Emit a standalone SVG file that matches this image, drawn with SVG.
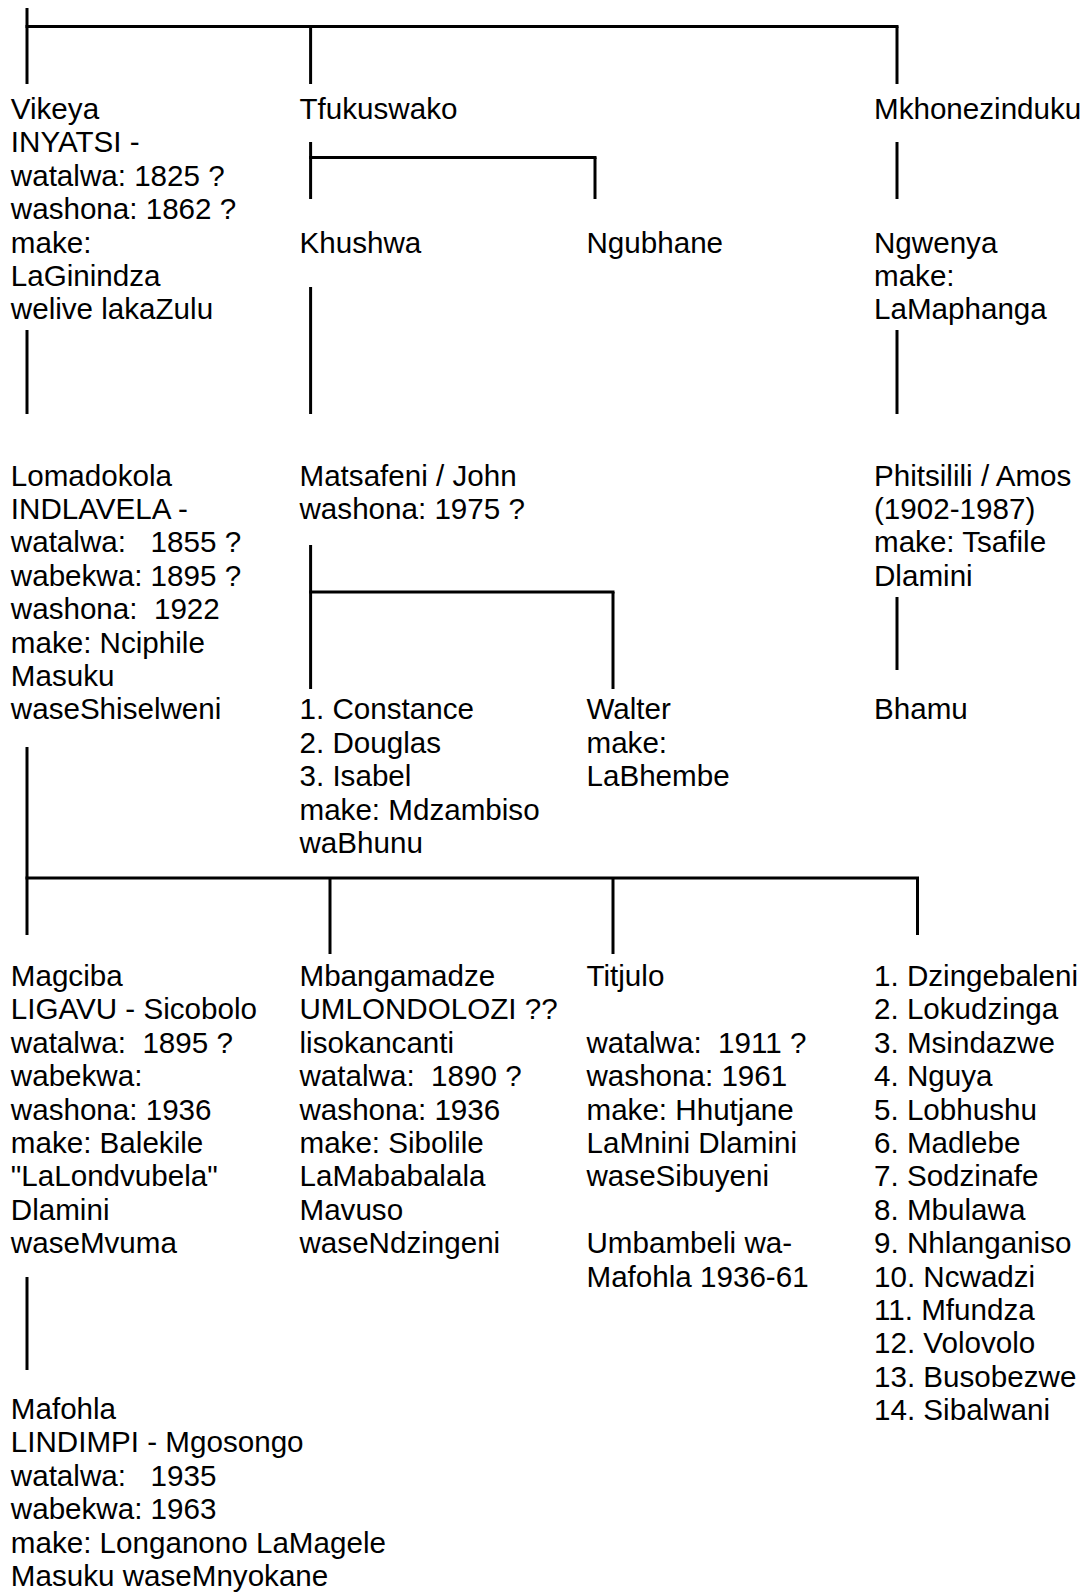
<svg xmlns="http://www.w3.org/2000/svg" width="1087" height="1592" viewBox="0 0 1087 1592">
<style>
text{font-family:"Liberation Sans",Arial,sans-serif;font-size:29.6px;fill:#000;white-space:pre}
.c line{stroke:#000;stroke-width:3;stroke-linecap:butt}
</style>
<rect width="1087" height="1592" fill="#fff"/>
<g class="c" id="connectors">
<line x1="27" y1="8" x2="27" y2="84"/>
<line x1="25.5" y1="26.5" x2="898.5" y2="26.5"/>
<line x1="310.6" y1="26.5" x2="310.6" y2="84"/>
<line x1="897" y1="26.5" x2="897" y2="84"/>
<line x1="310.6" y1="142" x2="310.6" y2="199"/>
<line x1="309.1" y1="157.4" x2="596.5" y2="157.4"/>
<line x1="595" y1="157.4" x2="595" y2="199"/>
<line x1="897" y1="142" x2="897" y2="199"/>
<line x1="27" y1="330" x2="27" y2="414"/>
<line x1="310.6" y1="287" x2="310.6" y2="414"/>
<line x1="897" y1="330" x2="897" y2="414"/>
<line x1="310.6" y1="545" x2="310.6" y2="689"/>
<line x1="309.1" y1="592" x2="614.5" y2="592"/>
<line x1="613" y1="592" x2="613" y2="689"/>
<line x1="897" y1="597" x2="897" y2="670"/>
<line x1="27" y1="747" x2="27" y2="935"/>
<line x1="25.5" y1="878" x2="919" y2="878"/>
<line x1="330" y1="878" x2="330" y2="954"/>
<line x1="613" y1="878" x2="613" y2="954"/>
<line x1="917.5" y1="878" x2="917.5" y2="935"/>
<line x1="27" y1="1277" x2="27" y2="1370"/>
</g>
<g id="vikeya"><text x="10.8" y="119"><tspan x="10.8">Vikeya</tspan><tspan x="10.8" dy="33.4">INYATSI -</tspan><tspan x="10.8" dy="33.4">watalwa: 1825 ?</tspan><tspan x="10.8" dy="33.4">washona: 1862 ?</tspan><tspan x="10.8" dy="33.4">make:</tspan><tspan x="10.8" dy="33.4">LaGinindza</tspan><tspan x="10.8" dy="33.4">welive lakaZulu</tspan></text></g>
<g id="tfukuswako"><text x="299.5" y="119">Tfukuswako</text></g>
<g id="mkhonezinduku"><text x="874" y="119">Mkhonezinduku</text></g>
<g id="khushwa"><text x="299.5" y="252.6">Khushwa</text></g>
<g id="ngubhane"><text x="586.5" y="252.6">Ngubhane</text></g>
<g id="ngwenya"><text x="874" y="252.6"><tspan x="874">Ngwenya</tspan><tspan x="874" dy="33.4">make:</tspan><tspan x="874" dy="33.4">LaMaphanga</tspan></text></g>
<g id="lomadokola"><text x="10.8" y="485.5"><tspan x="10.8">Lomadokola</tspan><tspan x="10.8" dy="33.4">INDLAVELA -</tspan><tspan x="10.8" dy="33.4">watalwa:   1855 ?</tspan><tspan x="10.8" dy="33.4">wabekwa: 1895 ?</tspan><tspan x="10.8" dy="33.4">washona:  1922</tspan><tspan x="10.8" dy="33.4">make: Nciphile</tspan><tspan x="10.8" dy="33.4">Masuku</tspan><tspan x="10.8" dy="33.4">waseShiselweni</tspan></text></g>
<g id="matsafeni"><text x="299.5" y="485.5"><tspan x="299.5">Matsafeni / John</tspan><tspan x="299.5" dy="33.4">washona: 1975 ?</tspan></text></g>
<g id="phitsilili"><text x="874" y="485.5"><tspan x="874">Phitsilili / Amos</tspan><tspan x="874" dy="33.4">(1902-1987)</tspan><tspan x="874" dy="33.4">make: Tsafile</tspan><tspan x="874" dy="33.4">Dlamini</tspan></text></g>
<g id="constance"><text x="299.5" y="719.3"><tspan x="299.5">1. Constance</tspan><tspan x="299.5" dy="33.4">2. Douglas</tspan><tspan x="299.5" dy="33.4">3. Isabel</tspan><tspan x="299.5" dy="33.4">make: Mdzambiso</tspan><tspan x="299.5" dy="33.4">waBhunu</tspan></text></g>
<g id="walter"><text x="586.5" y="719.3"><tspan x="586.5">Walter</tspan><tspan x="586.5" dy="33.4">make:</tspan><tspan x="586.5" dy="33.4">LaBhembe</tspan></text></g>
<g id="bhamu"><text x="874" y="719.3">Bhamu</text></g>
<g id="magciba"><text x="10.8" y="986"><tspan x="10.8">Magciba</tspan><tspan x="10.8" dy="33.4">LIGAVU - Sicobolo</tspan><tspan x="10.8" dy="33.4">watalwa:  1895 ?</tspan><tspan x="10.8" dy="33.4">wabekwa:</tspan><tspan x="10.8" dy="33.4">washona: 1936</tspan><tspan x="10.8" dy="33.4">make: Balekile</tspan><tspan x="10.8" dy="33.4">"LaLondvubela"</tspan><tspan x="10.8" dy="33.4">Dlamini</tspan><tspan x="10.8" dy="33.4">waseMvuma</tspan></text></g>
<g id="mbangamadze"><text x="299.5" y="986"><tspan x="299.5">Mbangamadze</tspan><tspan x="299.5" dy="33.4">UMLONDOLOZI ??</tspan><tspan x="299.5" dy="33.4">lisokancanti</tspan><tspan x="299.5" dy="33.4">watalwa:  1890 ?</tspan><tspan x="299.5" dy="33.4">washona: 1936</tspan><tspan x="299.5" dy="33.4">make: Sibolile</tspan><tspan x="299.5" dy="33.4">LaMababalala</tspan><tspan x="299.5" dy="33.4">Mavuso</tspan><tspan x="299.5" dy="33.4">waseNdzingeni</tspan></text></g>
<g id="titjulo"><text x="586.5" y="986"><tspan x="586.5">Titjulo</tspan><tspan x="586.5" dy="66.8">watalwa:  1911 ?</tspan><tspan x="586.5" dy="33.4">washona: 1961</tspan><tspan x="586.5" dy="33.4">make: Hhutjane</tspan><tspan x="586.5" dy="33.4">LaMnini Dlamini</tspan><tspan x="586.5" dy="33.4">waseSibuyeni</tspan><tspan x="586.5" dy="66.8">Umbambeli wa-</tspan><tspan x="586.5" dy="33.4">Mafohla 1936-61</tspan></text></g>
<g id="list"><text x="874" y="986"><tspan x="874">1. Dzingebaleni</tspan><tspan x="874" dy="33.4">2. Lokudzinga</tspan><tspan x="874" dy="33.4">3. Msindazwe</tspan><tspan x="874" dy="33.4">4. Nguya</tspan><tspan x="874" dy="33.4">5. Lobhushu</tspan><tspan x="874" dy="33.4">6. Madlebe</tspan><tspan x="874" dy="33.4">7. Sodzinafe</tspan><tspan x="874" dy="33.4">8. Mbulawa</tspan><tspan x="874" dy="33.4">9. Nhlanganiso</tspan><tspan x="874" dy="33.4">10. Ncwadzi</tspan><tspan x="874" dy="33.4">11. Mfundza</tspan><tspan x="874" dy="33.4">12. Volovolo</tspan><tspan x="874" dy="33.4">13. Busobezwe</tspan><tspan x="874" dy="33.4">14. Sibalwani</tspan></text></g>
<g id="mafohla"><text x="10.8" y="1419"><tspan x="10.8">Mafohla</tspan><tspan x="10.8" dy="33.4">LINDIMPI - Mgosongo</tspan><tspan x="10.8" dy="33.4">watalwa:   1935</tspan><tspan x="10.8" dy="33.4">wabekwa: 1963</tspan><tspan x="10.8" dy="33.4">make: Longanono LaMagele</tspan><tspan x="10.8" dy="33.4">Masuku waseMnyokane</tspan></text></g>
</svg>
